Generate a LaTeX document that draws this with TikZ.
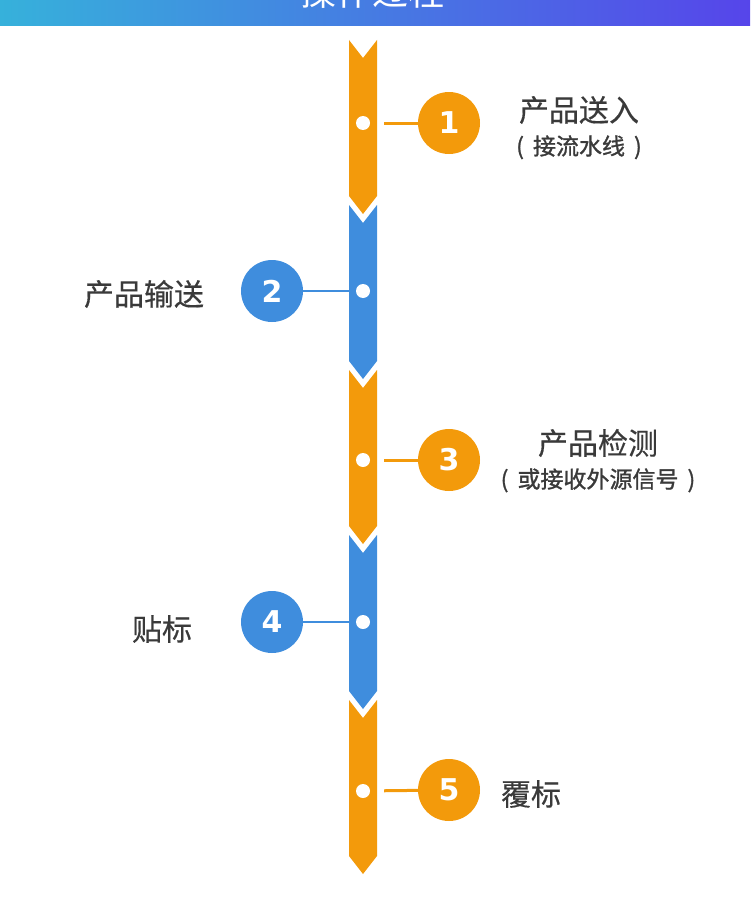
\documentclass[tikz,border=0pt]{standalone}
\usepackage{fontspec}
\usepackage{xcolor}
\usepackage{tikz}
\usetikzlibrary{positioning,calc}
\newfontfamily\cjk{Noto Sans CJK SC}
\newfontfamily\cjkmain[FakeBold=0.4]{Noto Sans CJK SC}
\newfontfamily\cjksub[FakeBold=1.2]{Noto Sans CJK SC}
\newfontfamily\numfont{DejaVu Sans}
\definecolor{barorange}{HTML}{F39A0B}
\definecolor{barblue}{HTML}{3F8DDD}
\definecolor{labelgray}{HTML}{3A3A3A}
\definecolor{bannerleft}{HTML}{36B1DB}
\definecolor{bannerright}{HTML}{5645EA}

\begin{document}
\begin{tikzpicture}[x=1pt, y=-1pt, font=\cjk,
        bardot/.style={circle, fill=white, inner sep=0pt, minimum size=14pt},
        numorange/.style={circle, fill=barorange, inner sep=0pt, minimum size=62pt, text=white, font=\numfont\bfseries\fontsize{30}{30}\selectfont},
        numblue/.style={circle, fill=barblue, inner sep=0pt, minimum size=62pt, text=white, font=\numfont\bfseries\fontsize{30}{30}\selectfont},
        orangeline/.style={draw=barorange, line width=3pt, shorten <=14pt},
        blueline/.style={draw=barblue, line width=2pt, shorten >=6pt},
        maintext/.style={text=labelgray, inner sep=0pt, font=\cjkmain\fontsize{30}{30}\selectfont},
        subtext/.style={text=labelgray, inner sep=0pt, font=\cjksub\fontsize{23}{23}\selectfont}]
        \useasboundingbox (0,0) rectangle (750,899);

        % Banner
        \shade[left color=bannerleft, right color=bannerright] (0,0) rectangle (750,26);
        \node[text=white, font=\cjk\fontsize{36}{36}\selectfont] (banner) at (372,-8) {操作过程};

        % Bar segments
        \fill[barorange] (349,40) -- (363,58) -- (377,40) -- (377,196) -- (363,214) -- (349,196) -- cycle;
        \fill[barblue] (349,205) -- (363,223) -- (377,205) -- (377,361) -- (363,379) -- (349,361) -- cycle;
        \fill[barorange] (349,370) -- (363,388) -- (377,370) -- (377,526) -- (363,544) -- (349,526) -- cycle;
        \fill[barblue] (349,535) -- (363,553) -- (377,535) -- (377,691) -- (363,709) -- (349,691) -- cycle;
        \fill[barorange] (349,700) -- (363,718) -- (377,700) -- (377,856) -- (363,874) -- (349,856) -- cycle;

        % Step 1
        \node[bardot] (d1) at (363,123) {};
        \node[numorange] (n1) at (449,123) {1};
        \draw[orangeline] (d1) -- (n1);
        \node[maintext] (t1) at (579,110) {产品送入};
        \node[subtext, below=11pt of t1] (s1) {(\hspace{9pt}接流水线\hspace{9pt})};

        % Step 2
        \node[bardot] (d2) at (363,291) {};
        \node[numblue] (n2) at (272,291) {2};
        \draw[blueline] (n2) -- (d2);
        \node[maintext] (t2) at (144,294) {产品输送};

        % Step 3
        \node[bardot] (d3) at (363,460) {};
        \node[numorange] (n3) at (449,460) {3};
        \draw[orangeline] (d3) -- (n3);
        \node[maintext] (t3) at (598,443) {产品检测};
        \node[subtext, below=11pt of t3] (s3) {(\hspace{9pt}或接收外源信号\hspace{9pt})};

        % Step 4
        \node[bardot] (d4) at (363,622) {};
        \node[numblue] (n4) at (272,622) {4};
        \draw[blueline] (n4) -- (d4);
        \node[maintext] (t4) at (162,629) {贴标};

        % Step 5
        \node[bardot] (d5) at (363,791) {};
        \node[numorange] (n5) at (449,790) {5};
        \draw[orangeline] (d5) -- (n5);
        \node[maintext] (t5) at (531,794) {覆标};
    \end{tikzpicture}
\end{document}
